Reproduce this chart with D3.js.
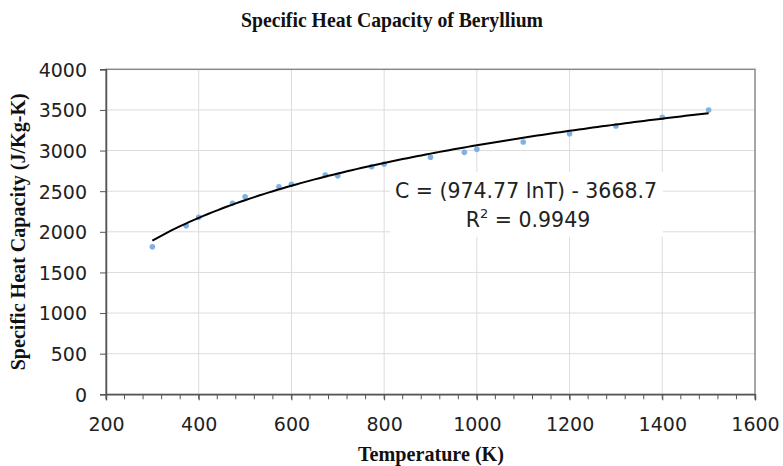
<!DOCTYPE html>
<html><head><meta charset="utf-8">
<script src="https://cdn.jsdelivr.net/npm/d3@7"></script>
<style>html,body{margin:0;padding:0;background:#fff;}svg{display:block;}</style>
</head><body>
<svg id="chart" width="783" height="466"></svg>
<script>
const temperatures = [300, 373, 400, 473, 500, 573, 600, 673, 700, 773, 800, 900, 973, 1000, 1100, 1200, 1300, 1400, 1500];
const heatCapacity = [1815, 2075, 2178, 2351, 2432, 2555, 2585, 2699, 2690, 2801, 2834, 2917, 2978, 3015, 3105, 3207, 3302, 3409, 3499];
const xTicks = [200, 400, 600, 800, 1000, 1200, 1400, 1600];
const yTicks = [0, 500, 1000, 1500, 2000, 2500, 3000, 3500, 4000];
const fitSlope = 974.77;
const fitIntercept = -3668.7;
const fitR2 = "0.9949";
const titleText = "Specific Heat Capacity of Beryllium";
const xTitle = "Temperature (K)";
const yTitle = "Specific Heat Capacity (J/Kg-K)";

const svg = d3.select("#chart");
const L = 106, R = 755, T = 69.3, B = 394.3;
const x = d3.scaleLinear().domain([200, 1600]).range([L, R]);
const y = d3.scaleLinear().domain([0, 4000]).range([B, T]);

// gridlines
const grid = svg.append("g").attr("stroke", "#dcdcdc").attr("stroke-width", 1);
grid.selectAll(".vg").data(xTicks.slice(1, -1)).join("line")
  .attr("x1", d => x(d)).attr("x2", d => x(d)).attr("y1", T).attr("y2", B);
grid.selectAll(".hg").data(yTicks.slice(1, -1)).join("line")
  .attr("x1", L).attr("x2", R).attr("y1", d => y(d)).attr("y2", d => y(d));

// plot border
svg.append("rect").attr("x", L).attr("y", T).attr("width", R - L).attr("height", B - T)
  .attr("fill", "none").attr("stroke", "#8a8a8a").attr("stroke-width", 1.5);

// equation label background
svg.append("rect").attr("x", 390).attr("y", 172).attr("width", 273).attr("height", 65).attr("fill", "#fff");

// minor x ticks
const minor = d3.range(200, 1601, 40);
svg.append("g").attr("stroke", "#555").attr("stroke-width", 1)
  .selectAll("line").data(minor).join("line")
  .attr("x1", d => x(d)).attr("x2", d => x(d)).attr("y1", B).attr("y2", B + 5);

// axes
const xAxis = svg.append("g").attr("transform", `translate(0,${B})`)
  .call(d3.axisBottom(x).tickValues(xTicks).tickFormat(d3.format("d")).tickSize(6).tickPadding(17));
const yAxis = svg.append("g").attr("transform", `translate(${L},0)`)
  .call(d3.axisLeft(y).tickValues(yTicks).tickFormat(d3.format("d")).tickSize(6).tickPadding(13));
[xAxis, yAxis].forEach(a => {
  a.select(".domain").attr("stroke", "#555").attr("stroke-width", 1.5);
  a.selectAll(".tick line").attr("stroke", "#555");
  a.selectAll("text").attr("font-family", "'DejaVu Sans', Verdana, sans-serif")
    .attr("font-size", 19).attr("fill", "#222");
});
yAxis.selectAll("text").attr("dy", "0.36em");

// data points
svg.append("g").selectAll("circle").data(temperatures).join("circle")
  .attr("cx", d => x(d)).attr("cy", (d, i) => y(heatCapacity[i])).attr("r", 2.8)
  .attr("fill", "#7fb1e3");

// trend line from fitted equation
const tMin = d3.min(temperatures), tMax = d3.max(temperatures);
const fitPts = d3.range(tMin, tMax + 1, 10).map(t => [t, fitSlope * Math.log(t) + fitIntercept]);
svg.append("path").datum(fitPts)
  .attr("d", d3.line().x(d => x(d[0])).y(d => y(d[1])))
  .attr("fill", "none").attr("stroke", "#000").attr("stroke-width", 2);

// equation text
const eq = svg.append("g").attr("font-family", "'DejaVu Sans', Verdana, sans-serif")
  .attr("font-size", 20.5).attr("fill", "#222").attr("text-anchor", "middle");
eq.append("text").attr("x", 526).attr("y", 198)
  .text(`C = (${fitSlope} lnT) - ${Math.abs(fitIntercept)}`);
const r2 = eq.append("text").attr("x", 528).attr("y", 227);
r2.append("tspan").text("R");
r2.append("tspan").attr("font-size", 13).attr("dy", -9).text("2");
r2.append("tspan").attr("dy", 9).text(` = ${fitR2}`);

// titles
const serif = "'Liberation Serif', 'Times New Roman', serif";
svg.append("text").attr("x", 392).attr("y", 26.7).attr("text-anchor", "middle")
  .attr("font-family", serif).attr("font-weight", "bold").attr("font-size", 22)
  .attr("textLength", 302).attr("lengthAdjust", "spacingAndGlyphs").attr("fill", "#111")
  .text(titleText);
svg.append("text").attr("x", 431).attr("y", 461).attr("text-anchor", "middle")
  .attr("font-family", serif).attr("font-weight", "bold").attr("font-size", 21)
  .attr("textLength", 146).attr("lengthAdjust", "spacingAndGlyphs").attr("fill", "#111")
  .text(xTitle);
svg.append("text").attr("transform", `translate(25,${(T + B) / 2}) rotate(-90)`)
  .attr("text-anchor", "middle")
  .attr("font-family", serif).attr("font-weight", "bold").attr("font-size", 21)
  .attr("textLength", 277).attr("lengthAdjust", "spacingAndGlyphs").attr("fill", "#111")
  .text(yTitle);
</script>
</body></html>
